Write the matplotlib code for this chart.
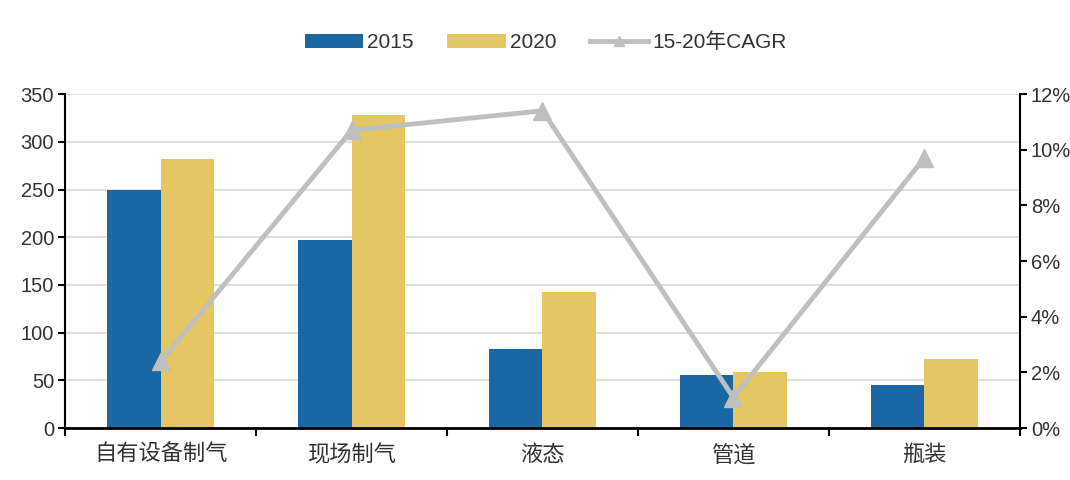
import matplotlib.pyplot as plt
import numpy as np
from matplotlib.ticker import MultipleLocator, FuncFormatter

plt.rcParams['font.family'] = ['Liberation Sans', 'Noto Sans CJK SC']

categories = ["自有设备制气", "现场制气", "液态", "管道", "瓶装"]
v2015 = [250, 197, 83, 56, 45]
v2020 = [282, 328, 143, 59, 72]
cagr = [2.4, 10.7, 11.4, 1.1, 9.7]  # percent

blue = '#1b67a3'
yellow = '#e4c762'
gray = '#bfbfbf'

fig = plt.figure(figsize=(10.7, 4.8), dpi=100)
ax = fig.add_axes([0.061, 0.108, 0.892, 0.696])
x = np.arange(len(categories))
w = 0.28

ax.bar(x - w/2, v2015, width=w, color=blue, label='2015', zorder=2)
ax.bar(x + w/2, v2020, width=w, color=yellow, label='2020', zorder=2)
ax.set_xlim(-0.5, len(categories) - 0.5)
ax.set_ylim(0, 350)
ax.yaxis.set_major_locator(MultipleLocator(50))
ax.grid(axis='y', color='#e0e0e0', linewidth=1.5, zorder=0)
ax.set_axisbelow(True)

# ticks between groups, labels at centres
ax.set_xticks(np.arange(-0.5, len(categories), 1.0))
ax.set_xticklabels([])
ax.set_xticks(x, minor=True)
ax.set_xticklabels(categories, minor=True, fontsize=16, color='#333333')
ax.tick_params(axis='x', which='minor', length=0, pad=12)
ax.tick_params(axis='x', which='major', length=6, width=1.5, direction='out')
ax.tick_params(axis='y', length=5, width=1.5, labelsize=14.5, labelcolor='#333333', pad=3)
ax.spines['left'].set_linewidth(1.5)
ax.spines['bottom'].set_linewidth(2)
ax.spines['top'].set_visible(False)
ax.spines['right'].set_visible(False)

ax2 = ax.twinx()
ax2.plot(x, cagr, color=gray, linewidth=3.5, marker='^', markersize=13,
         label='15-20年CAGR', zorder=3)
ax2.set_ylim(0, 12)
ax2.yaxis.set_major_locator(MultipleLocator(2))
ax2.yaxis.set_major_formatter(FuncFormatter(lambda v, p: f'{v:.0f}%'))
ax2.tick_params(axis='y', length=5, width=1.5, labelsize=14.5, labelcolor='#333333', pad=3)
ax2.spines['right'].set_linewidth(1.5)
ax2.spines['top'].set_visible(False)
ax2.spines['left'].set_visible(False)
ax2.spines['bottom'].set_visible(False)

h1, l1 = ax.get_legend_handles_labels()
h2, l2 = ax2.get_legend_handles_labels()
fig.legend(h1 + h2, l1 + l2, loc='center', bbox_to_anchor=(0.51, 0.912), ncol=3,
           frameon=False, fontsize=15, handlelength=2.8, handleheight=0.65,
           columnspacing=1.6, handletextpad=0.2, markerscale=0.55,
           labelcolor='#333333')

plt.savefig('out.png', dpi=100)
